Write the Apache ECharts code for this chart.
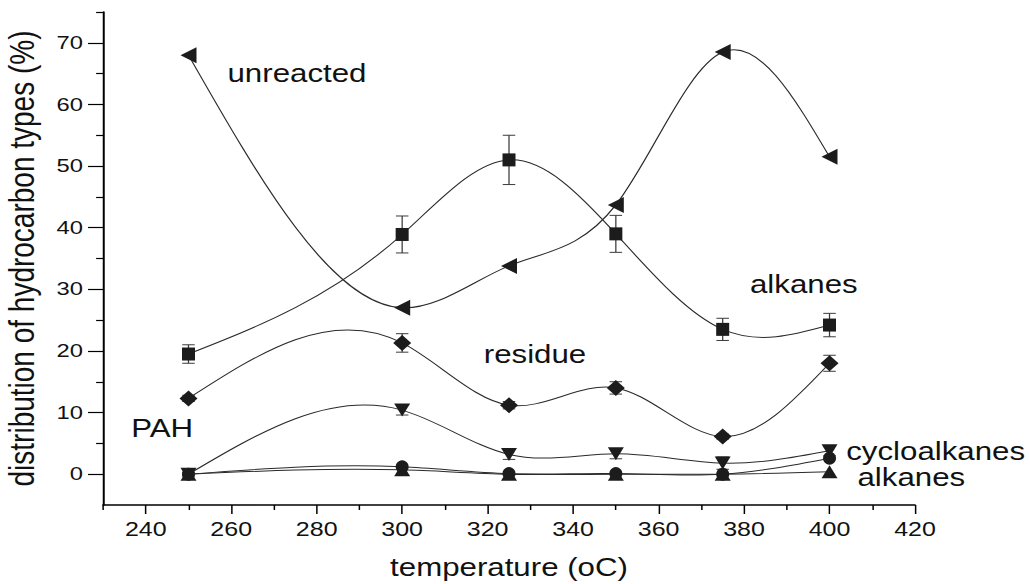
<!DOCTYPE html>
<html>
<head>
<meta charset="utf-8">
<script src="https://cdn.jsdelivr.net/npm/echarts@6/dist/echarts.min.js"></script>
<style>
  html, body { margin: 0; padding: 0; background: #fff; overflow: hidden; }
  /* the drawing is laid out narrower and widened horizontally as a whole */
  #chart { width: 824px; height: 584px; transform: scaleX(1.25); transform-origin: 0 0; }
</style>
</head>
<body>
<div id="chart"></div>
<script>
// ---- data ----
const temperature   = [250, 300, 325, 350, 375, 400];
const unreacted     = [68.0, 27.0, 33.8, 43.7, 68.5, 51.5];
const alkanes       = [19.5, 38.9, 51.0, 39.0, 23.5, 24.2];
const alkanesErr    = [1.5, 3.0, 4.0, 3.0, 1.8, 1.9];
const residue       = [12.3, 21.3, 11.2, 14.0, 6.1, 18.0];
const residueErr    = [0.5, 1.5, 0.6, 1.0, 0.4, 1.3];
const cycloalkanes  = [0.0, 10.4, 3.2, 3.3, 1.8, 3.8];
const cycloErr      = [0.3, 0.8, 0.8, 0.8, 1.0, 0.8];
const pah           = [0.0, 1.2, 0.1, 0.1, 0.0, 2.6];
const lightAlkanes  = [0.0, 0.7, 0.0, 0.0, 0.0, 0.4];

const xMajorTicks = [240, 260, 280, 300, 320, 340, 360, 380, 400, 420];
const xMinorTicks = [230, 250, 270, 290, 310, 330, 350, 370, 390, 410];
const yMajorTicks = [0, 10, 20, 30, 40, 50, 60, 70];
const yMinorTicks = [5, 15, 25, 35, 45, 55, 65, 75];

// ---- drawing ----
const STRETCH = 1.25;           // horizontal widening of the whole page drawing
const FONT = 'Liberation Sans, Arial, sans-serif';
const INK = '#1c1c1c';

// natural cubic spline: returns [start slope, end slope] for each segment
function splineSlopes(xs, ys) {
  const n = xs.length, h = [], M = new Array(n).fill(0);
  for (let i = 0; i < n - 1; i++) h.push(xs[i + 1] - xs[i]);
  const a = [], b = [], c = [], d = [];
  for (let i = 1; i < n - 1; i++) {
    a.push(h[i - 1]); b.push(2 * (h[i - 1] + h[i])); c.push(h[i]);
    d.push(6 * ((ys[i + 1] - ys[i]) / h[i] - (ys[i] - ys[i - 1]) / h[i - 1]));
  }
  const m = b.length;
  for (let i = 1; i < m; i++) {
    const w = a[i] / b[i - 1];
    b[i] -= w * c[i - 1]; d[i] -= w * d[i - 1];
  }
  const sol = new Array(m);
  sol[m - 1] = d[m - 1] / b[m - 1];
  for (let i = m - 2; i >= 0; i--) sol[i] = (d[i] - c[i] * sol[i + 1]) / b[i];
  for (let i = 0; i < m; i++) M[i + 1] = sol[i];
  const segs = [];
  for (let i = 0; i < n - 1; i++) {
    const sl = (ys[i + 1] - ys[i]) / h[i];
    segs.push([sl - h[i] * (2 * M[i] + M[i + 1]) / 6, sl + h[i] * (M[i] + 2 * M[i + 1]) / 6]);
  }
  return segs;
}

// smooth connecting curve, one cubic Bezier per interval
function curveSeries(values) {
  const segs = splineSlopes(temperature, values);
  return {
    type: 'custom', coordinateSystem: 'cartesian2d', silent: true, z: 1,
    data: temperature.map((t, i) => [t, values[i]]),
    encode: { x: 0, y: 1 },
    renderItem(params, api) {
      const i = params.dataIndex;
      if (i >= temperature.length - 1) return null;
      const x0 = temperature[i], x1 = temperature[i + 1];
      const y0 = values[i], y1 = values[i + 1];
      const k = (x1 - x0) / 3;
      const p0 = api.coord([x0, y0]);
      const p1 = api.coord([x0 + k, y0 + segs[i][0] * k]);
      const p2 = api.coord([x1 - k, y1 - segs[i][1] * k]);
      const p3 = api.coord([x1, y1]);
      return {
        type: 'bezierCurve',
        shape: { x1: p0[0], y1: p0[1], x2: p3[0], y2: p3[1],
                 cpx1: p1[0], cpy1: p1[1], cpx2: p2[0], cpy2: p2[1] },
        style: { stroke: '#2a2a2a', lineWidth: 1, fill: null }
      };
    }
  };
}

// vertical error bars with caps
function errorSeries(values, errs) {
  return {
    type: 'custom', coordinateSystem: 'cartesian2d', silent: true, z: 2,
    data: temperature.map((t, i) => [t, values[i] - errs[i], values[i] + errs[i]]),
    encode: { x: 0, y: [1, 2] },
    renderItem(params, api) {
      const lo = api.coord([api.value(0), api.value(1)]);
      const hi = api.coord([api.value(0), api.value(2)]);
      const cap = 5;
      const st = { stroke: '#3a3a3a', lineWidth: 1 };
      return {
        type: 'group',
        children: [
          { type: 'line', shape: { x1: lo[0], y1: lo[1], x2: hi[0], y2: hi[1] }, style: st },
          { type: 'line', shape: { x1: lo[0] - cap, y1: lo[1], x2: lo[0] + cap, y2: lo[1] }, style: st },
          { type: 'line', shape: { x1: hi[0] - cap, y1: hi[1], x2: hi[0] + cap, y2: hi[1] }, style: st }
        ]
      };
    }
  };
}

// markers; widths are divided by STRETCH so they look right once widened
function markerSeries(name, values, symbol, w, h, rotate) {
  return {
    type: 'scatter', name, silent: true, z: 3,
    data: temperature.map((t, i) => [t, values[i]]),
    symbol, symbolSize: [w, h], symbolRotate: rotate || 0,
    itemStyle: { color: INK, opacity: 1 }
  };
}

const tickStyle = { color: '#000', width: 1.2 };
const labelStyle = { fontFamily: FONT, color: '#111' };

const option = {
  animation: false,
  backgroundColor: '#fff',
  grid: { left: 82.4, right: 92, top: 12, bottom: 79, outerBoundsMode: 'none', containLabel: false },
  xAxis: [
    {
      type: 'value', min: 230, max: 420, position: 'bottom',
      axisLine: { show: true, onZero: false, lineStyle: { color: '#000', width: 1.5 } },
      axisTick: { show: true, customValues: xMajorTicks, length: 9, lineStyle: tickStyle },
      axisLabel: Object.assign({ customValues: xMajorTicks, margin: 14, fontSize: 20 }, labelStyle),
      splitLine: { show: false },
      name: 'temperature (oC)', nameLocation: 'middle', nameGap: 50,
      nameTextStyle: { fontFamily: FONT, fontSize: 25, color: '#111' }
    },
    {
      type: 'value', min: 230, max: 420, position: 'bottom',
      axisLine: { show: false, onZero: false },
      axisTick: { show: true, customValues: xMinorTicks, length: 5, lineStyle: tickStyle },
      axisLabel: { show: false },
      splitLine: { show: false }
    }
  ],
  yAxis: [
    {
      type: 'value', min: -5, max: 75, position: 'left',
      axisLine: { show: true, onZero: false, lineStyle: { color: '#000', width: 1.6 } },
      axisTick: { show: true, customValues: yMajorTicks, length: 12, lineStyle: tickStyle },
      axisLabel: Object.assign({ customValues: yMajorTicks, margin: 16, fontSize: 19 }, labelStyle),
      splitLine: { show: false },
      name: 'distribution of hydrocarbon types (%)', nameLocation: 'middle', nameGap: 52,
      nameTextStyle: { fontFamily: FONT, fontSize: 28, lineHeight: 26, color: '#111' }
    },
    {
      type: 'value', min: -5, max: 75, position: 'left',
      axisLine: { show: false, onZero: false },
      axisTick: { show: true, customValues: yMinorTicks, length: 5.5, lineStyle: tickStyle },
      axisLabel: { show: false },
      splitLine: { show: false }
    }
  ],
  graphic: [
    ['unreacted', 182, 73],
    ['alkanes', 600, 284],
    ['residue', 387, 354.5],
    ['PAH', 105, 428.6],
    ['cycloalkanes', 677, 451.3],
    ['alkanes', 686, 477]
  ].map(([text, x, y]) => ({
    type: 'text', x, y, silent: true, z: 10,
    style: { text, fontFamily: FONT, fontSize: 25, lineHeight: 21, fill: '#111', verticalAlign: 'middle', align: 'left' }
  })),
  series: [
    curveSeries(unreacted),
    curveSeries(alkanes),
    curveSeries(residue),
    curveSeries(cycloalkanes),
    curveSeries(pah),
    curveSeries(lightAlkanes),
    errorSeries(alkanes, alkanesErr),
    errorSeries(residue, residueErr),
    errorSeries(cycloalkanes, cycloErr),
    markerSeries('unreacted', unreacted, 'triangle', 16, 16 / STRETCH, 90),
    markerSeries('alkanes', alkanes, 'rect', 13 / STRETCH, 13),
    markerSeries('residue', residue, 'diamond', 18 / STRETCH, 16),
    markerSeries('lightAlkanes', lightAlkanes, 'triangle', 16 / STRETCH, 13),
    markerSeries('PAH', pah, 'circle', 13 / STRETCH, 13),
    markerSeries('cycloalkanes', cycloalkanes, 'triangle', 16 / STRETCH, 13, 180)
  ]
};

const chart = echarts.init(document.getElementById('chart'), null, { renderer: 'svg' });
chart.setOption(option);
</script>
</body>
</html>
